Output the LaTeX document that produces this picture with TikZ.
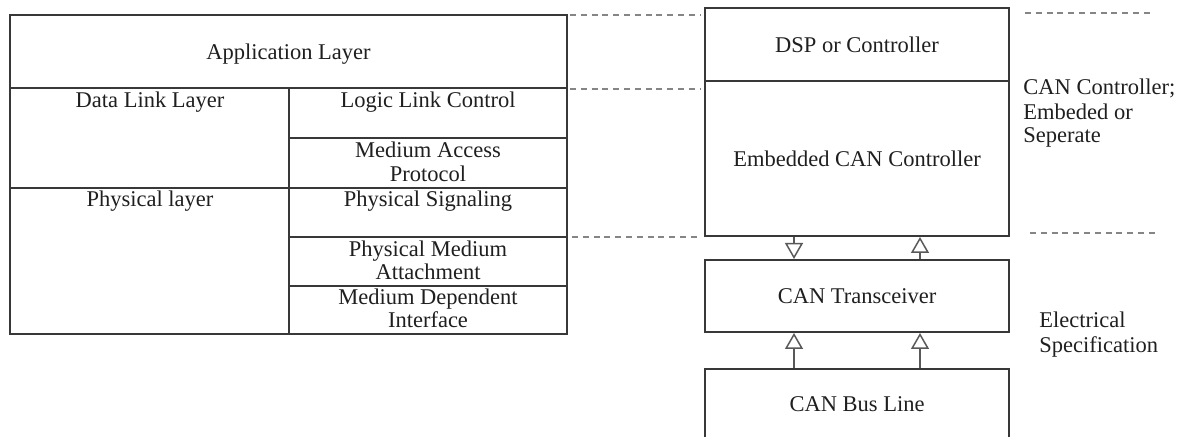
\documentclass[tikz,border=0pt]{standalone}
\usepackage{fontspec}
\setmainfont{Liberation Serif}
\usetikzlibrary{arrows.meta}
\definecolor{ink}{gray}{0.12}
\definecolor{rulecol}{gray}{0.22}
\definecolor{guidecol}{gray}{0.52}
\definecolor{flowcol}{gray}{0.35}
\begin{document}
\begin{tikzpicture}[x=0.5pt,y=-0.5pt,
  lbl/.style={font=\fontsize{11.25}{13}\selectfont, text=ink, inner sep=0pt},
  blk/.style={draw=rulecol, line width=1pt, inner sep=0pt, minimum width=152pt, lbl},
  gridline/.style={draw=rulecol, line width=0.85pt},
  guideline/.style={draw=guidecol, line width=0.6pt, dash pattern=on 3pt off 2.4pt},
  flow/.style={draw=flowcol, line width=0.75pt, -{Triangle[open,width=9pt,length=8pt]}}]
\useasboundingbox (0,0) rectangle (1188,437);
\clip (0,0) rectangle (1188,437);

% ---- OSI-style layer table ----
\draw[gridline] (10,15) rectangle (567,334);
\draw[gridline] (10,88) -- (567,88);
\draw[gridline] (289,88) -- (289,334);
\draw[gridline] (289,138) -- (567,138);
\draw[gridline] (10,188) -- (567,188);
\draw[gridline] (289,237) -- (567,237);
\draw[gridline] (289,286) -- (567,286);

\node[lbl, anchor=base] (app) at (288.5,60) {Application Layer};
\node[lbl, anchor=base] (dll) at (150,108) {Data Link Layer};
\node[lbl, anchor=base] (llc) at (428,108) {Logic Link Control};
\node[lbl, anchor=base] (mac1) at (428,158) {Medium Access};
\node[lbl, anchor=base] (mac2) at (428,182) {Protocol};
\node[lbl, anchor=base] (phy) at (150,207) {Physical layer};
\node[lbl, anchor=base] (ps) at (428,207) {Physical Signaling};
\node[lbl, anchor=base] (pma1) at (428,257) {Physical Medium};
\node[lbl, anchor=base] (pma2) at (428,280) {Attachment};
\node[lbl, anchor=base] (mdi1) at (428,305) {Medium Dependent};
\node[lbl, anchor=base] (mdi2) at (428,328) {Interface};

% ---- CAN node stack ----
\node[blk, minimum height=36.5pt] (dsp) at (857,44.5) {DSP or Controller};
\node[blk, minimum height=77.5pt] (emb) at (857,158.5) {Embedded CAN Controller};
\node[blk, minimum height=36pt] (trx) at (857,296) {CAN Transceiver};
\node[blk, minimum height=35.5pt] (bus) at (857,404.5) {CAN Bus Line};

\coordinate (cL) at (794,0);
\coordinate (cR) at (920,0);
\draw[flow] (emb.south -| cL) -- (trx.north -| cL);
\draw[flow] (trx.north -| cR) -- (emb.south -| cR);
\draw[flow] (bus.north -| cL) -- (trx.south -| cL);
\draw[flow] (bus.north -| cR) -- (trx.south -| cR);

% ---- side notes ----
\node[lbl, anchor=base west] (n1) at (1023,95) {CAN Controller;};
\node[lbl, anchor=base west] (n2) at (1023,120) {Embeded or};
\node[lbl, anchor=base west] (n3) at (1023,143) {Seperate};
\node[lbl, anchor=base west] (e1) at (1039,328) {Electrical};
\node[lbl, anchor=base west] (e2) at (1039,353) {Specification};

% ---- dashed guide lines ----
\draw[guideline] (570,15) -- (700,15);
\draw[guideline] (570,89) -- (700,89);
\draw[guideline] (572,237) -- (700,237);
\draw[guideline] (1025,13) -- (1152,13);
\draw[guideline] (1030,233) -- (1157,233);
\end{tikzpicture}
\end{document}
